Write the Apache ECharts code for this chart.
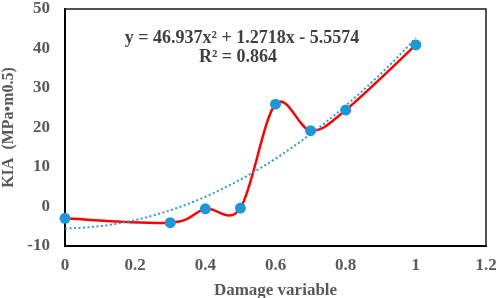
<!DOCTYPE html>
<html>
<head>
<meta charset="utf-8">
<script src="https://cdn.jsdelivr.net/npm/echarts@6/dist/echarts.min.js"></script>
<style>html,body{margin:0;padding:0;background:#fff}#c{width:498px;height:298px}</style>
</head>
<body>
<div id="c"></div>
<script>
var damage = [0, 0.3, 0.4, 0.5, 0.6, 0.7, 0.8, 1.0];
var kia = [-3.0, -4.1, -0.6, -0.4, 25.9, 19.2, 24.4, 40.9];
var fitCoef = [46.937, 1.2718, -5.5574]; // a, b, c of displayed quadratic trendline
var fitRange = [0, 1];
var xTicks = {min: 0, max: 1.2, interval: 0.2};
var yTicks = {min: -10, max: 50, interval: 10};
var equationText = 'y = 46.937x\u00B2 + 1.2718x - 5.5574';
var r2Text = 'R\u00B2 = 0.864';

var trend = [];
for (var i = 0; i <= 50; i++) {
  var x = fitRange[0] + (fitRange[1] - fitRange[0]) * i / 50;
  trend.push([x, fitCoef[0] * x * x + fitCoef[1] * x + fitCoef[2]]);
}
var pts = damage.map(function (d, i) { return [d, kia[i]]; });

// Excel-style smoothed line: Catmull-Rom Bezier segments between data points (pixel space via api.coord)
function renderSmooth(params, api) {
  var i = params.dataIndex;
  var n = pts.length;
  if (i >= n - 1) return null;
  var P = function (k) { k = Math.max(0, Math.min(n - 1, k)); return api.coord(pts[k]); };
  var p0 = P(i - 1), p1 = P(i), p2 = P(i + 1), p3 = P(i + 2);
  return {
    type: 'bezierCurve',
    shape: {
      x1: p1[0], y1: p1[1], x2: p2[0], y2: p2[1],
      cpx1: p1[0] + (p2[0] - p0[0]) / 6, cpy1: p1[1] + (p2[1] - p0[1]) / 6,
      cpx2: p2[0] - (p3[0] - p1[0]) / 6, cpy2: p2[1] - (p3[1] - p1[1]) / 6
    },
    style: {stroke: '#ff0000', lineWidth: 2.5, fill: null}
  };
}

var font = '"Liberation Serif", "Times New Roman", serif';
var chart = echarts.init(document.getElementById('c'));
chart.setOption({
  animation: false,
  grid: {left: 65, right: 12, top: 9, bottom: 52, outerBoundsMode: 'none', containLabel: false,
         show: true, borderColor: '#1a1a1a', borderWidth: 1.5, backgroundColor: 'transparent'},
  xAxis: {
    type: 'value', min: xTicks.min, max: xTicks.max, interval: xTicks.interval,
    splitLine: {show: false}, axisTick: {show: false},
    axisLine: {show: true, onZero: false, lineStyle: {color: '#000', width: 2}},
    axisLabel: {color: '#595959', fontFamily: font, fontWeight: 'bold', fontSize: 17, margin: 11},
    name: 'Damage variable', nameLocation: 'middle', nameGap: 36,
    nameTextStyle: {color: '#595959', fontFamily: font, fontWeight: 'bold', fontSize: 17}
  },
  yAxis: {
    type: 'value', min: yTicks.min, max: yTicks.max, interval: yTicks.interval,
    splitLine: {show: false}, axisTick: {show: false},
    axisLine: {show: true, onZero: false, lineStyle: {color: '#000', width: 2}},
    axisLabel: {color: '#595959', fontFamily: font, fontWeight: 'bold', fontSize: 17, margin: 15},
    name: 'KIA  (MPa\u2022m0.5)', nameLocation: 'middle', nameGap: 48,
    nameTextStyle: {color: '#595959', fontFamily: font, fontWeight: 'bold', fontSize: 16}
  },
  graphic: [
    {type: 'text', x: 242, y: 38, style: {text: equationText, fill: '#404040', font: 'bold 18px ' + font, align: 'center', verticalAlign: 'middle'}},
    {type: 'text', x: 238, y: 57, style: {text: r2Text, fill: '#404040', font: 'bold 18px ' + font, align: 'center', verticalAlign: 'middle'}}
  ],
  series: [
    {
      type: 'custom', data: pts, renderItem: renderSmooth, z: 2, clip: true,
      encode: {x: 0, y: 1}, silent: true
    },
    {
      type: 'line', data: trend, showSymbol: false, symbol: 'none', z: 3,
      lineStyle: {color: '#2a9ad8', width: 2, type: [2, 2.5]}
    },
    {
      type: 'scatter', data: pts, z: 4,
      symbol: 'circle', symbolSize: 11,
      itemStyle: {color: '#1f97d6', opacity: 1}
    }
  ]
});
</script>
</body>
</html>
